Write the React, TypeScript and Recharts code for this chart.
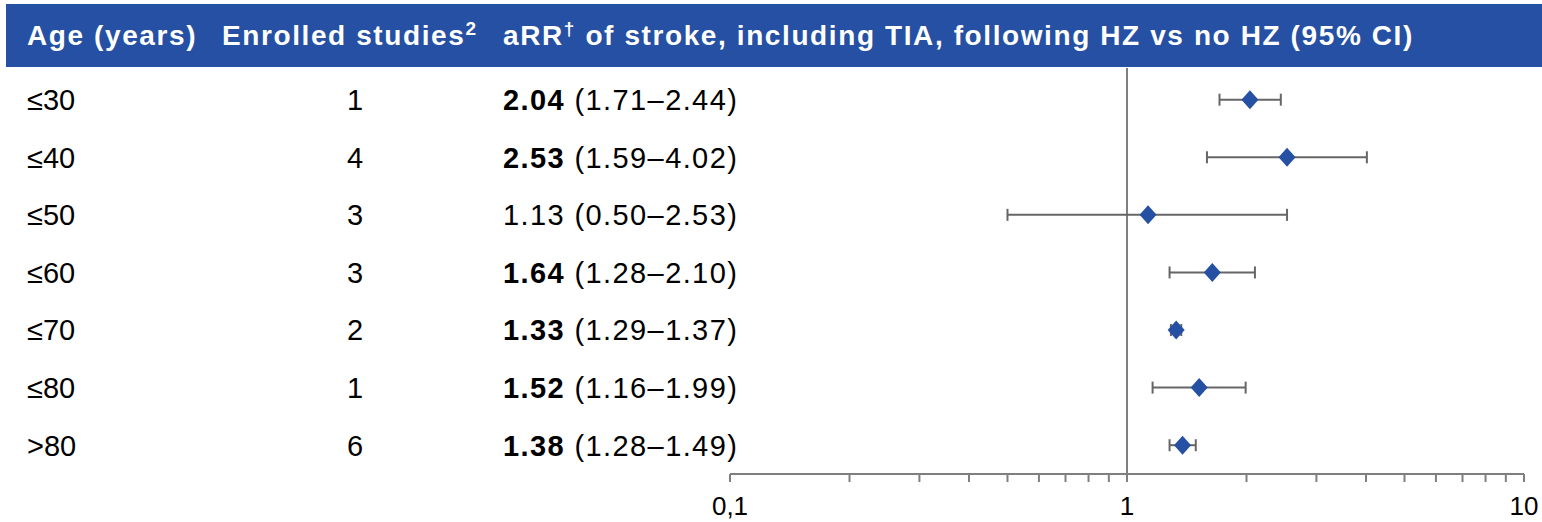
import React from "react";
import {
  ScatterChart,
  Scatter,
  XAxis,
  YAxis,
  ErrorBar,
  ReferenceLine,
} from "recharts";

const ageGroups = ["≤30", "≤40", "≤50", "≤60", "≤70", "≤80", ">80"];
const enrolledStudies = [1, 4, 3, 3, 2, 1, 6];
const aRR = [2.04, 2.53, 1.13, 1.64, 1.33, 1.52, 1.38];
const ciLow = [1.71, 1.59, 0.5, 1.28, 1.29, 1.16, 1.28];
const ciHigh = [2.44, 4.02, 2.53, 2.1, 1.37, 1.99, 1.49];
const significant = [true, true, false, true, true, true, true];
const rowIds = [1, 2, 3, 4, 5, 6, 7];
const xTicks = [0.1, 0.2, 0.3, 0.4, 0.5, 0.6, 0.7, 0.8, 0.9, 1, 2, 3, 4, 5, 6, 7, 8, 9, 10];
const xTickLabels: Record<string, string> = { "0.1": "0,1", "1": "1", "10": "10" };
const headers = ["Age (years)", "Enrolled studies", "aRR", " of stroke, including TIA, following HZ vs no HZ (95% CI)"];

const BLUE = "#2550A3";
const GREY = "#7F7F7F";
const FONT = "'Liberation Sans', Arial, sans-serif";

const rows = aRR.map((v, i) => ({
  x: v,
  y: rowIds[i],
  err: [v - ciLow[i], ciHigh[i] - v],
}));

const fmt = (n: number) => n.toFixed(2);

const renderRowTick = (props: any) => {
  const { y, payload } = props;
  const i = rowIds.indexOf(Number(payload?.value));
  if (i < 0) return <g />;
  return (
    <g fontFamily={FONT} fontSize={29}>
      <text x={27} y={y} dy="0.36em" textAnchor="start" fill="#000">
        {ageGroups[i]}
      </text>
      <text x={355} y={y} dy="0.36em" textAnchor="middle" fill="#000">
        {enrolledStudies[i]}
      </text>
      <text x={503} y={y} dy="0.36em" textAnchor="start" fill="#000" letterSpacing={1.4}>
        <tspan fontWeight={significant[i] ? "bold" : "normal"}>{fmt(aRR[i])}</tspan>
        <tspan>{` (${fmt(ciLow[i])}–${fmt(ciHigh[i])})`}</tspan>
      </text>
    </g>
  );
};

const Diamond = (props: any) => {
  const { cx, cy } = props;
  if (cx == null || cy == null) return null;
  const w = 8.5;
  const h = 9.5;
  return (
    <polygon
      points={`${cx},${cy - h} ${cx + w},${cy} ${cx},${cy + h} ${cx - w},${cy}`}
      fill={BLUE}
    />
  );
};

export default function App() {
  return (
    <div
      style={{
        position: "absolute",
        left: 0,
        top: 0,
        width: 1542,
        height: 522,
        background: "#fff",
        overflow: "hidden",
      }}
    >
      <div
        style={{
          position: "absolute",
          left: 6,
          top: 4,
          width: 1536,
          height: 63,
          background: BLUE,
          color: "#fff",
          fontFamily: FONT,
          fontWeight: "bold",
          fontSize: 28,
          letterSpacing: "1.6px",
          lineHeight: "63px",
          whiteSpace: "nowrap",
        }}
      >
        <span style={{ position: "absolute", left: 21 }}>{headers[0]}</span>
        <span style={{ position: "absolute", left: 216 }}>
          {headers[1]}
          <sup style={{ fontSize: 19, lineHeight: 0 }}>2</sup>
        </span>
        <span style={{ position: "absolute", left: 497 }}>
          {headers[2]}
          <sup style={{ fontSize: 19, lineHeight: 0 }}>†</sup>
          {headers[3]}
        </span>
      </div>
      <div style={{ position: "absolute", left: 0, top: 0 }}>
        <ScatterChart
          width={1542}
          height={522}
          margin={{ top: 68, right: 18, bottom: 0, left: 0 }}
        >
          <XAxis
            type="number"
            dataKey="x"
            scale="log"
            domain={[0.1, 10]}
            ticks={xTicks}
            interval={0}
            allowDataOverflow
            height={48}
            tickSize={8}
            tickMargin={15}
            tickFormatter={(v: number) => xTickLabels[String(v)] ?? ""}
            axisLine={{ stroke: GREY, strokeWidth: 2 }}
            tickLine={{ stroke: GREY, strokeWidth: 2 }}
            tick={{ fill: "#000", fontSize: 26, fontFamily: FONT }}
          />
          <YAxis
            type="number"
            dataKey="y"
            domain={[0.45, 7.5]}
            reversed
            ticks={rowIds}
            interval={0}
            width={730}
            axisLine={false}
            tickLine={false}
            tick={renderRowTick}
          />
          <ReferenceLine x={1} stroke={GREY} strokeWidth={2} ifOverflow="extendDomain" />
          <Scatter data={rows} shape={<Diamond />} isAnimationActive={false}>
            <ErrorBar
              dataKey="err"
              direction="x"
              width={6}
              stroke="#666"
              strokeWidth={2}
              isAnimationActive={false}
            />
          </Scatter>
        </ScatterChart>
      </div>
    </div>
  );
}
